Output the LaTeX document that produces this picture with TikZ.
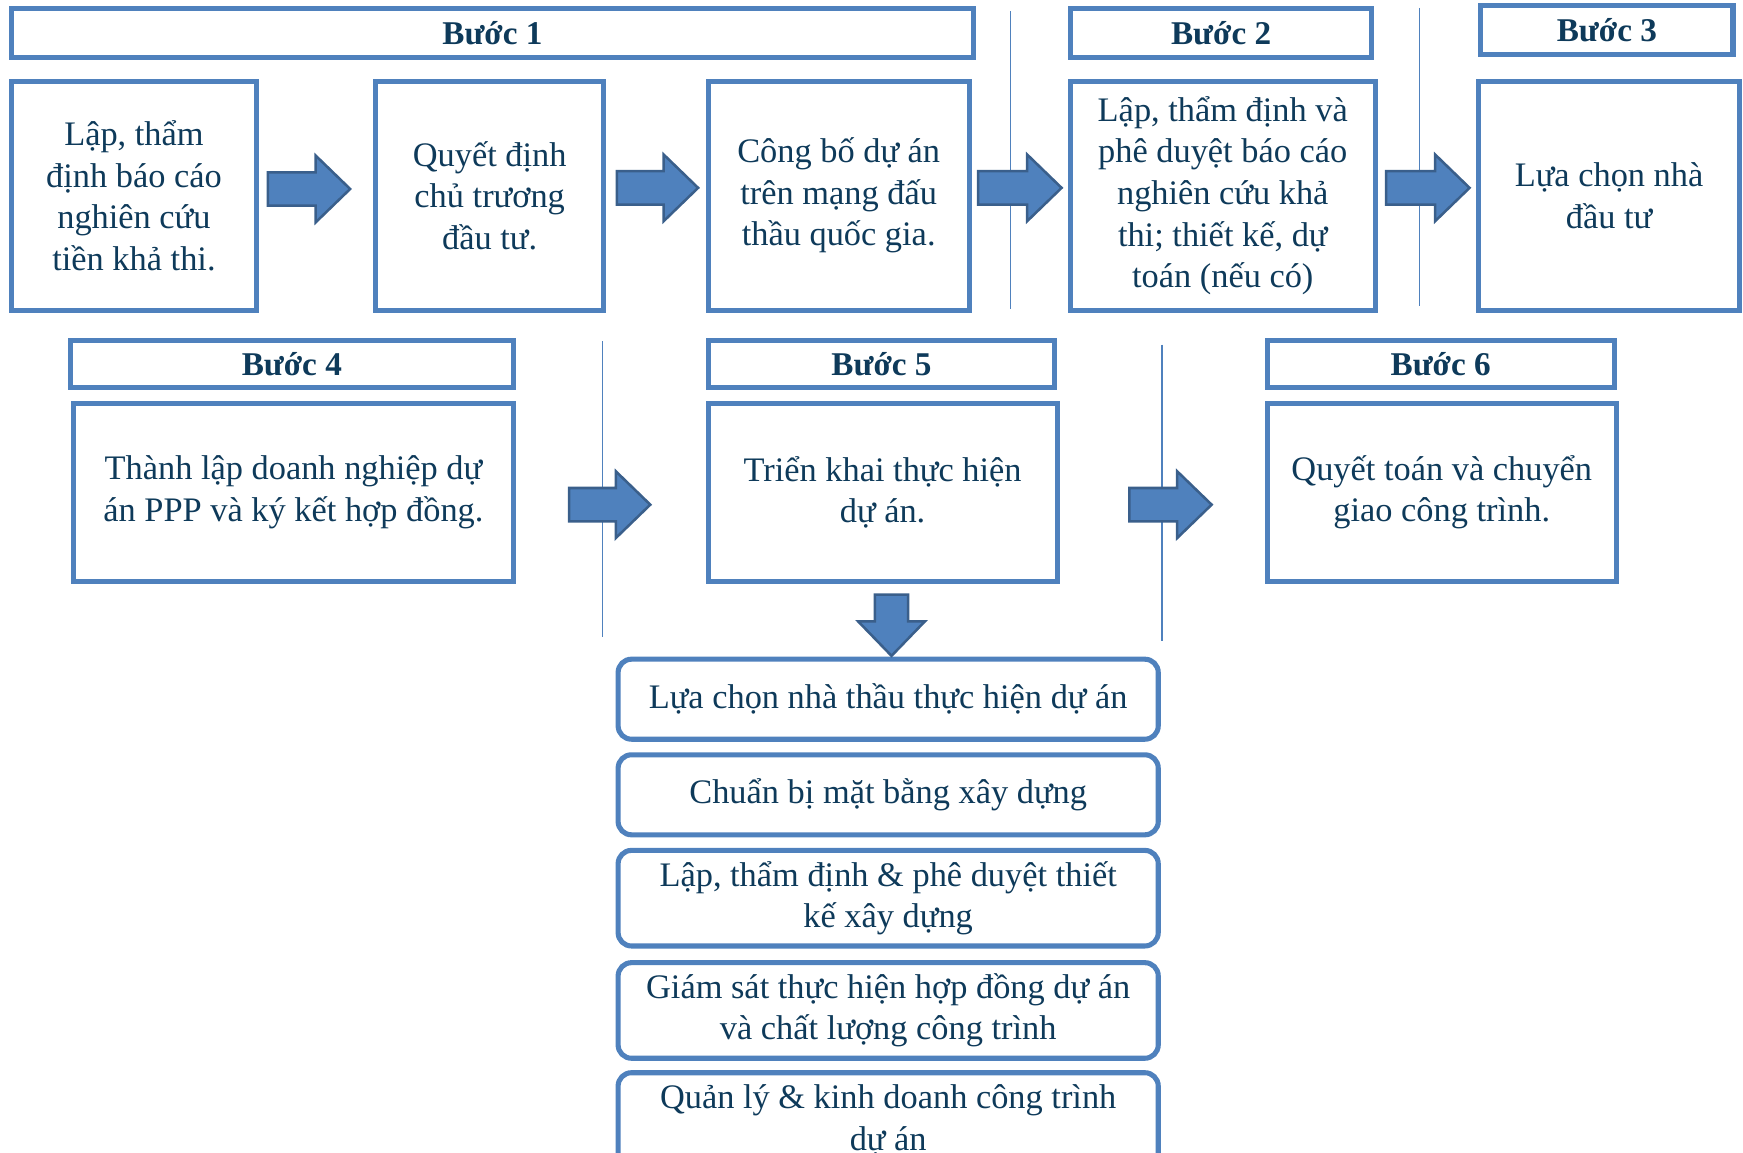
\documentclass[tikz,border=0pt]{standalone}
\usepackage{fontspec}
\setmainfont{Liberation Serif}
\definecolor{boxblue}{HTML}{4F81BD}
\definecolor{arrowedge}{HTML}{3A5F8B}
\definecolor{inktext}{HTML}{0E3A5A}
\begin{document}
\begin{tikzpicture}[x=0.02cm, y=-0.02cm,
    every node/.style={draw=boxblue, line width=2.6pt, fill=white, align=center, text=inktext,
      font=\fontsize{17.6}{21.3}\selectfont, inner sep=2pt},
    stagehead/.style={minimum height=0.88cm, font=\fontsize{17}{21.3}\selectfont\bfseries},
    task/.style={rounded corners=0.24cm, minimum width=9.72cm},
    sepline/.style={draw=boxblue, line width=0.9pt},
    pics/barrow/.style={code={
      \draw[fill=boxblue, draw=arrowedge, line width=1.3pt] (0,-15) -- (#1-31,-15) -- (#1-31,-30)
        -- (#1,0) -- (#1-31,30) -- (#1-31,15) -- (0,15) -- cycle;}}]
    \useasboundingbox (0,0) rectangle (1568,1037);

    % separators
    \draw[sepline] (909,10) -- (909,278);
    \draw[sepline] (1277,7) -- (1277,275);
    \draw[sepline] (542,307) -- (542,573);
    \draw[sepline] (1045,310) -- (1045,577);

    % headers
    \node[stagehead, minimum width=17.32cm] (h1) at (443,30) {Bước 1};
    \node[stagehead, minimum width=5.42cm] (h2) at (1098.5,30) {Bước 2};
    \node[stagehead, minimum width=4.54cm] (h3) at (1445.5,27) {Bước 3};
    \node[stagehead, minimum width=7.98cm, minimum height=0.86cm] (h4) at (262.5,327.5) {Bước 4};
    \node[stagehead, minimum width=6.24cm, minimum height=0.86cm] (h5) at (793,327.5) {Bước 5};
    \node[stagehead, minimum width=6.24cm, minimum height=0.86cm] (h6) at (1296,327.5) {Bước 6};

    % first row
    \node[minimum width=4.42cm, minimum height=4.12cm] (lap) at (120.5,176) {Lập, thẩm\\định báo cáo\\nghiên cứu\\tiền khả thi.};
    \node[minimum width=4.10cm, minimum height=4.12cm] (quyet) at (440.5,176) {Quyết định\\chủ trương\\đầu tư.};
    \node[minimum width=4.70cm, minimum height=4.12cm] (congbo) at (754.5,176) {Công bố dự án\\trên mạng đấu\\thầu quốc gia.};
    \node[minimum width=5.48cm, minimum height=4.12cm] (pheduyet) at (1100,176) {Lập, thẩm định và\\phê duyệt báo cáo\\nghiên cứu khả\\thi; thiết kế, dự\\toán (nếu có)};
    \node[minimum width=4.70cm, minimum height=4.12cm] (luachon) at (1447.5,176) {Lựa chọn nhà\\đầu tư};

    % second row
    \node[minimum width=7.92cm, minimum height=3.2cm] (thanhlap) at (264,443) {Thành lập doanh nghiệp dự\\án PPP và ký kết hợp đồng.};
    \node[minimum width=6.28cm, minimum height=3.2cm] (trienkhai) at (794,443) {Triển khai thực hiện\\dự án.};
    \node[minimum width=6.28cm, minimum height=3.2cm] (quyettoan) at (1297,443) {Quyết toán và chuyển\\giao công trình.};

    % tasks of step 5
    \node[task, minimum height=1.44cm] (t1) at (799,629) {Lựa chọn nhà thầu thực hiện dự án};
    \node[task, minimum height=1.44cm] (t2) at (799,715) {Chuẩn bị mặt bằng xây dựng};
    \node[task, minimum height=1.72cm] (t3) at (799,808) {Lập, thẩm định \& phê duyệt thiết\\kế xây dựng};
    \node[task, minimum height=1.72cm] (t4) at (799,909) {Giám sát thực hiện hợp đồng dự án\\và chất lượng công trình};
    \node[task, minimum height=1.72cm] (t5) at (799,1008) {Quản lý \& kinh doanh công trình\\dự án};

    % block arrows
    \pic at (241,170) {barrow=74};
    \pic at (555,169) {barrow=73};
    \pic at (880,169) {barrow=75};
    \pic at (1247,169) {barrow=75};
    \pic at (512,454) {barrow=73};
    \pic at (1016,454) {barrow=74};
    \pic[rotate=-90] at (802,535) {barrow=55};
\end{tikzpicture}
\end{document}
